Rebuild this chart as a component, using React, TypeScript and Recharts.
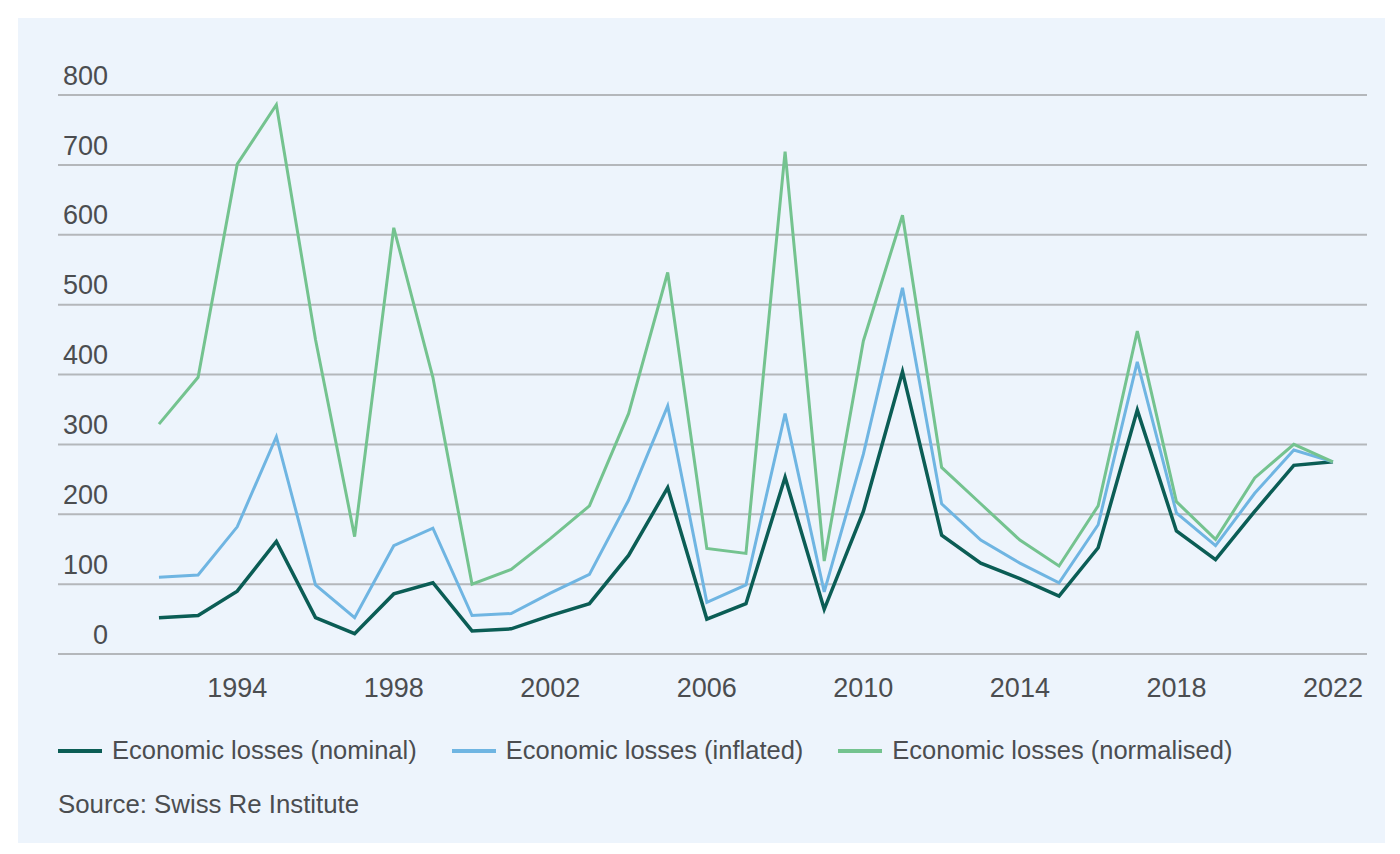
import { CartesianGrid, Line, LineChart, XAxis, YAxis } from 'recharts'

const years = [
  1992, 1993, 1994, 1995, 1996, 1997, 1998, 1999, 2000, 2001, 2002, 2003, 2004, 2005, 2006, 2007,
  2008, 2009, 2010, 2011, 2012, 2013, 2014, 2015, 2016, 2017, 2018, 2019, 2020, 2021, 2022,
]

const nominal = [
  52, 55, 90, 161, 52, 29, 86, 102, 33, 36, 55, 72, 141, 238, 50, 72, 253, 64, 204, 404, 170, 130,
  108, 83, 152, 349, 176, 135, 204, 270, 275,
]

const inflated = [
  110, 113, 182, 311, 99, 52, 155, 180, 55, 58, 87, 114, 220, 355, 74, 99, 344, 89, 286, 524, 215,
  163, 130, 102, 185, 418, 202, 155, 230, 292, 275,
]

const normalised = [
  329, 396, 701, 786, 450, 168, 610, 396, 100, 121, 165, 212, 344, 546, 151, 144, 719, 133, 448, 628,
  267, 215, 163, 126, 212, 462, 218, 164, 252, 300, 275,
]

const xTicks = [1994, 1998, 2002, 2006, 2010, 2014, 2018, 2022]
const yTicks = [0, 100, 200, 300, 400, 500, 600, 700, 800]

const series = [
  { key: 'nominal', label: 'Economic losses (nominal)', color: '#0b5d55', width: 3.5 },
  { key: 'inflated', label: 'Economic losses (inflated)', color: '#6fb5e2', width: 3 },
  { key: 'normalised', label: 'Economic losses (normalised)', color: '#74c38f', width: 3 },
]

const data = years.map((year, i) => ({
  year,
  nominal: nominal[i],
  inflated: inflated[i],
  normalised: normalised[i],
}))

const font = '"Liberation Sans", Arial, sans-serif'
const textColor = '#4b4d50'

function YTick(props: any) {
  const { y, payload } = props
  return (
    <text x={108} y={y - 20} dy="0.36em" textAnchor="end" fill={textColor} fontSize={27} fontFamily={font}>
      {payload.value}
    </text>
  )
}

export default function App() {
  return (
    <div style={{ position: 'absolute', left: 0, top: 0, width: 1400, height: 854, background: '#ffffff' }}>
      <div
        style={{
          position: 'absolute',
          left: 18,
          top: 18,
          width: 1367,
          height: 825,
          background: '#edf4fc',
        }}
      />
      <div style={{ position: 'absolute', left: 0, top: 0 }}>
        <LineChart
          width={1400}
          height={854}
          data={data}
          margin={{ top: 95, right: 33, bottom: 160, left: 8 }}
        >
          <CartesianGrid vertical={false} stroke="#b4b7bb" strokeWidth={2} />
          <XAxis
            dataKey="year"
            type="number"
            domain={[1989.42, 2022.87]}
            ticks={xTicks}
            axisLine={false}
            tickLine={false}
            tickSize={0}
            tickMargin={24}
            height={40}
            tick={{ fill: textColor, fontSize: 27, fontFamily: font }}
          />
          <YAxis
            domain={[0, 800]}
            ticks={yTicks}
            width={50}
            axisLine={false}
            tickLine={false}
            tick={<YTick />}
          />
          {series.map((s) => (
            <Line
              key={s.key}
              dataKey={s.key}
              type="linear"
              stroke={s.color}
              strokeWidth={s.width}
              dot={false}
              activeDot={false}
              isAnimationActive={false}
            />
          ))}
        </LineChart>
      </div>
      <div
        style={{
          position: 'absolute',
          left: 58,
          top: 736,
          display: 'flex',
          alignItems: 'center',
          fontFamily: font,
          fontSize: 25.5,
          color: textColor,
        }}
      >
        {series.map((s) => (
          <div key={s.key} style={{ display: 'flex', alignItems: 'center', marginRight: 35 }}>
            <span style={{ width: 44, height: 4, background: s.color, marginRight: 10 }} />
            <span>{s.label}</span>
          </div>
        ))}
      </div>
      <div
        style={{
          position: 'absolute',
          left: 58,
          top: 790,
          fontFamily: font,
          fontSize: 25.8,
          color: textColor,
        }}
      >
        Source: Swiss Re Institute
      </div>
    </div>
  )
}
